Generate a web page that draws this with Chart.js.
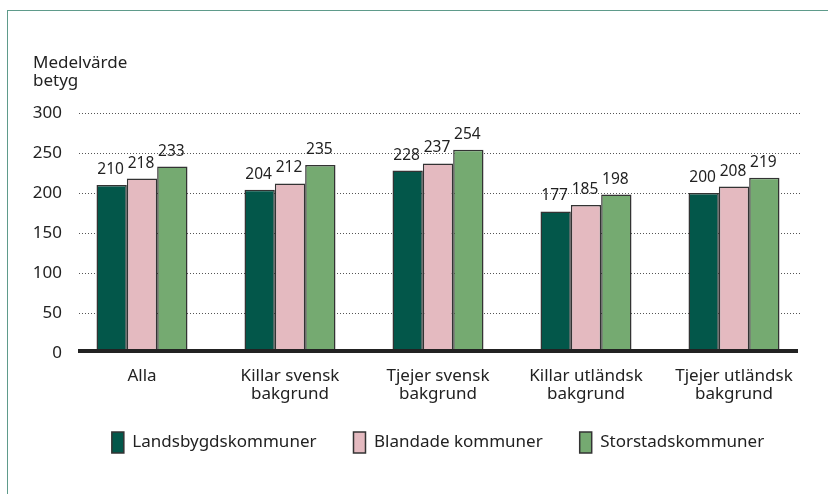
<!DOCTYPE html>
<html lang="sv">
<head>
    <meta charset="UTF-8">
    <title>Medelvärde betyg</title>
    <script src="https://cdn.jsdelivr.net/npm/chart.js@4.4.1/dist/chart.umd.min.js"></script>
    <style>
        body { margin: 0; background: #fff; }
        .wrap { position: relative; width: 828px; height: 494px; }
        .frame { position: absolute; left: 7px; top: 10px; right: 0; bottom: 0;
                 border-top: 1.5px solid #5f9b8b; border-left: 1.5px solid #5f9b8b; }
        canvas { position: absolute; left: 0; top: 0; }
    </style>
</head>
<body>
<div class="wrap">
    <div class="frame"></div>
    <canvas id="betyg" width="828" height="494"></canvas>
</div>
<script>
    // data
    var categories = ['Alla', ['Killar svensk', 'bakgrund'], ['Tjejer svensk', 'bakgrund'],
                      ['Killar utländsk', 'bakgrund'], ['Tjejer utländsk', 'bakgrund']];
    var landsbygd = [210, 204, 228, 177, 200];
    var blandade  = [218, 212, 237, 185, 208];
    var storstad  = [233, 235, 254, 198, 219];
    var yTicks    = [0, 50, 100, 150, 200, 250, 300];
    var yTitle    = ['Medelvärde', 'betyg'];

    var font = '"Noto Sans", "Open Sans", sans-serif';
    var textColor = '#222';

    // grid, zero line, value labels, axis title
    var extras = {
        id: 'extras',
        afterLayout: function (chart) {
            // centre the legend under the plot, not the whole canvas
            var lg = chart.legend, a = chart.chartArea;
            lg.left = a.left;
            lg.right = a.right;
            lg.top -= 10;
            lg.bottom -= 10;
        },
        beforeDatasetsDraw: function (chart) {
            var ctx = chart.ctx, a = chart.chartArea, y = chart.scales.y;
            ctx.save();
            ctx.strokeStyle = '#555';
            ctx.lineWidth = 1;
            ctx.setLineDash([1, 2]);
            for (var v of yTicks) {
                if (v === 0) continue;
                var py = Math.round(y.getPixelForValue(v)) + 0.5;
                ctx.beginPath();
                ctx.moveTo(a.left + 11, py);
                ctx.lineTo(a.right - 6, py);
                ctx.stroke();
            }
            ctx.restore();
        },
        afterDatasetsDraw: function (chart) {
            var ctx = chart.ctx, a = chart.chartArea, y = chart.scales.y;
            var y0 = y.getPixelForValue(0);
            ctx.save();
            ctx.fillStyle = '#222';
            ctx.fillRect(a.left + 10, y0 - 4, a.right - a.left - 20, 4);

            ctx.font = '15.5px ' + font;
            ctx.fillStyle = textColor;
            ctx.textAlign = 'center';
            ctx.textBaseline = 'alphabetic';
            chart.data.datasets.forEach(function (ds, i) {
                chart.getDatasetMeta(i).data.forEach(function (bar, j) {
                    ctx.fillText(ds.data[j], bar.x - 1, bar.y - 11);
                });
            });

            ctx.font = '17px ' + font;
            ctx.textAlign = 'left';
            yTitle.forEach(function (line, k) {
                ctx.fillText(line, 33, 68 + k * 18);
            });
            ctx.restore();
        }
    };

    new Chart(document.getElementById('betyg'), {
        type: 'bar',
        data: {
            labels: categories,
            datasets: [
                { label: 'Landsbygdskommuner', data: landsbygd, backgroundColor: '#03574a' },
                { label: 'Blandade kommuner', data: blandade, backgroundColor: '#e4bac0' },
                { label: 'Storstadskommuner', data: storstad, backgroundColor: '#75aa71' }
            ]
        },
        options: {
            responsive: false,
            animation: false,
            layout: { padding: { left: 30, right: 20, top: 113, bottom: 21 } },
            datasets: {
                bar: {
                    categoryPercentage: 0.615,
                    barPercentage: 1,
                    borderColor: '#333',
                    borderWidth: 1.5
                }
            },
            scales: {
                x: {
                    grid: { display: false, drawTicks: false },
                    border: { display: false },
                    ticks: { color: textColor, padding: 14, font: { family: font, size: 17, lineHeight: 1.06 } },
                    afterFit: function (s) { s.height = 52; }
                },
                y: {
                    min: 0,
                    max: 300,
                    grid: { display: false, drawTicks: false },
                    border: { display: false },
                    ticks: { stepSize: 50, color: textColor, padding: 6, font: { family: font, size: 17 } },
                    afterFit: function (s) { s.width = 38; }
                }
            },
            plugins: {
                tooltip: { enabled: false },
                legend: {
                    position: 'bottom',
                    labels: {
                        boxWidth: 12,
                        boxHeight: 21,
                        padding: 37,
                        color: textColor,
                        font: { family: font, size: 17 }
                    }
                }
            }
        },
        plugins: [extras]
    });
</script>
</body>
</html>
